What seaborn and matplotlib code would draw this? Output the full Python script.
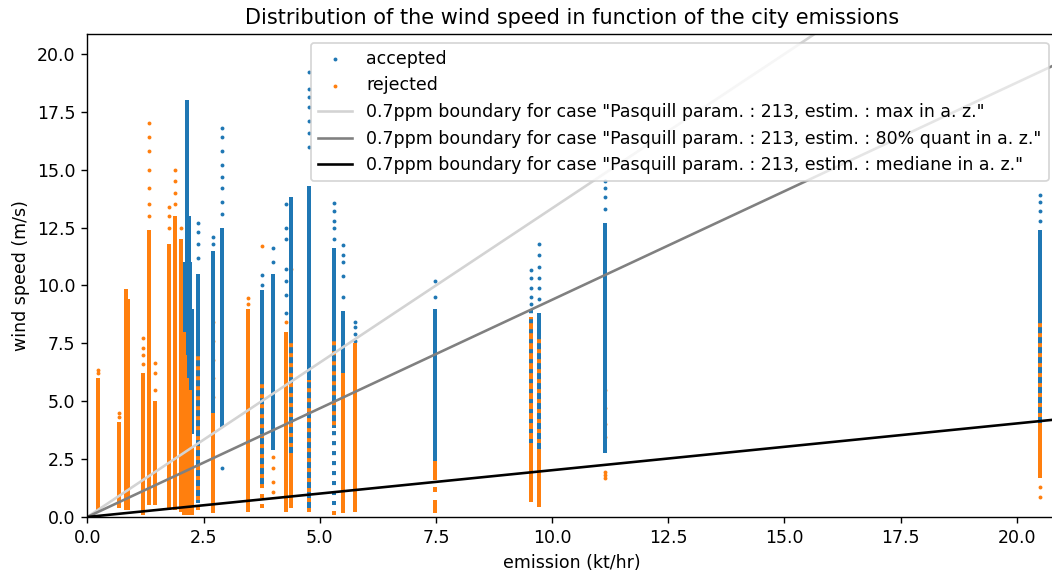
import pandas as pd
import matplotlib
matplotlib.use("Agg")
import matplotlib.pyplot as plt
import seaborn as sns

# dense parts of each city column: (emission, lowest wind, highest wind)
accepted_dense = [
    (2.08, 4.0, 10.5), (2.11, 3.8, 11.0), (2.14, 3.5, 18.0), (2.18, 3.6, 13.0),
    (2.22, 4.0, 11.0), (2.25, 3.6, 9.0), (2.39, 0.6, 10.5),
    (2.71, 4.5, 11.5), (2.90, 3.9, 12.5), (3.76, 1.3, 9.8), (4.00, 2.9, 10.5),
    (4.38, 2.6, 13.8), (4.76, 0.2, 14.3), (5.31, 3.85, 11.6), (5.50, 6.2, 8.9),
    (7.48, 2.3, 9.0), (9.72, 2.75, 8.8), (11.14, 2.75, 12.7), (20.50, 2.0, 12.4),
]
# parts where accepted points are scattered among rejected ones
accepted_mixed = [(9.55, 3.2, 9.2), (5.31, 0.5, 3.85)]
# isolated accepted points
accepted_dots = {
    2.39: [12.7, 12.3, 11.8, 11.2],
    2.71: [12.1, 11.8],
    2.90: [16.8, 16.4, 15.8, 15.2, 14.7, 14.2, 13.6, 13.1, 2.1],
    3.76: [10.0, 10.45],
    4.00: [11.0, 11.6],
    4.27: [13.5, 12.5, 12.0, 10.7, 10.2, 9.6, 8.8],
    4.76: [19.2, 18.5, 18.15, 17.7, 17.1, 16.6, 16.0],
    5.31: [13.55, 13.2, 12.8, 12.5, 12.0],
    5.50: [11.75, 11.3, 11.0, 10.4, 9.5],
    5.76: [8.44, 8.2, 7.9, 7.6],
    7.48: [10.2, 9.5],
    9.55: [10.67, 10.3, 9.9, 9.5, 9.2],
    9.72: [11.8, 11.3, 10.8, 10.3, 9.9, 9.4],
    11.14: [14.5, 14.2, 13.8, 13.3],
    20.50: [13.9, 13.6, 13.2, 12.8],
}

rejected_dense = [
    (0.22, 0.2, 6.0), (0.69, 0.4, 4.1), (0.83, 0.3, 9.85), (0.88, 0.3, 9.4),
    (1.19, 0.1, 6.2), (1.33, 0.5, 12.4), (1.46, 0.5, 5.0), (1.76, 0.3, 11.8),
    (1.89, 0.3, 13.0), (2.01, 0.2, 12.0), (2.07, 0.1, 8.0), (2.10, 0.1, 7.0),
    (2.12, 0.1, 4.0), (2.15, 0.1, 6.0), (2.17, 0.1, 4.5), (2.20, 0.1, 5.5),
    (2.22, 0.1, 3.5), (2.25, 0.1, 3.0), (2.71, 0.17, 4.5), (3.45, 0.23, 9.0),
    (4.27, 0.2, 8.0), (4.38, 0.4, 2.6), (5.50, 0.17, 6.2), (5.76, 0.2, 7.5),
    (7.48, 1.6, 2.4), (7.48, 1.1, 1.3), (7.48, 0.17, 0.75), (9.55, 0.66, 8.65),
    (9.72, 0.43, 2.75), (20.50, 1.7, 3.9),
]
rejected_mixed = [
    (2.39, 0.3, 7.1), (3.76, 0.4, 5.9), (4.38, 2.6, 7.5), (4.76, 0.2, 5.9),
    (5.31, 0.1, 7.6), (9.72, 2.75, 7.9), (20.50, 3.9, 8.4),
]
rejected_dots = {
    0.22: [6.35, 6.2],
    0.69: [4.5, 4.3],
    1.19: [6.6, 7.0, 7.3, 7.73],
    1.33: [13.0, 13.5, 14.2, 15.0, 15.8, 16.4, 17.0],
    1.46: [6.65, 6.2, 5.5],
    1.76: [12.5, 13.0, 13.4],
    1.89: [13.5, 14.0, 14.5, 15.0],
    2.01: [12.5],
    2.71: [8.4, 7.6, 6.8, 6.0, 5.2],
    3.45: [9.45, 9.2],
    3.76: [11.7],
    4.00: [2.6, 2.1, 1.5, 1.1],
    4.27: [8.4],
    4.38: [10.7],
    11.14: [5.5, 4.7, 4.0, 3.45, 1.95, 1.8, 1.7],
    20.50: [1.3, 0.88],
}

# 0.7ppm boundaries (wind speed per kt/hr)
boundary_names = ["max in a. z.", "80% quant in a. z.", "mediane in a. z."]
boundary_slopes = [1.333, 0.938, 0.202]
boundary_colors = ["lightgray", "gray", "black"]

BLUE = "#1f77b4"
ORANGE = "#ff7f0e"


def to_segments(rows):
    return pd.DataFrame(rows, columns=["emission", "low", "high"])


def to_points(dots):
    rows = [(e, w) for e, winds in dots.items() for w in winds]
    return pd.DataFrame(rows, columns=["emission", "wind"])


fig, ax = plt.subplots(figsize=(8.416, 4.576), dpi=125)
fig.subplots_adjust(left=0.083, right=1.005, bottom=0.0962, top=0.9406)

acc = to_segments(accepted_dense)
ax.vlines(acc["emission"], acc["low"], acc["high"], colors=BLUE, lw=2.3)
acc_pts = to_points(accepted_dots)
sns.scatterplot(data=acc_pts, x="emission", y="wind", color=BLUE, s=5,
                linewidth=0, label="accepted", ax=ax)

rej = to_segments(rejected_dense)
ax.vlines(rej["emission"], rej["low"], rej["high"], colors=ORANGE, lw=2.3)
rej_pts = to_points(rejected_dots)
sns.scatterplot(data=rej_pts, x="emission", y="wind", color=ORANGE, s=5,
                linewidth=0, label="rejected", ax=ax)

rej_mix = to_segments(rejected_mixed)
ax.vlines(rej_mix["emission"], rej_mix["low"], rej_mix["high"], colors=ORANGE,
          lw=2.3, linestyles=(0, (1, 1.5)))
acc_mix = to_segments(accepted_mixed)
ax.vlines(acc_mix["emission"], acc_mix["low"], acc_mix["high"], colors=BLUE,
          lw=2.3, linestyles=(0, (1, 1.5)))

for name, slope, col in zip(boundary_names, boundary_slopes, boundary_colors):
    ax.axline((0, 0), slope=slope, color=col, lw=1.5,
              label=f'0.7ppm boundary for case "Pasquill param. : 213, estim. : {name}"')

ax.set_xlim(0, 20.87)
ax.set_ylim(0, 20.86)
ax.set_title("Distribution of the wind speed in function of the city emissions")
ax.set_xlabel("emission (kt/hr)")
ax.set_ylabel("wind speed (m/s)")
ax.legend(loc="upper right")

fig.savefig("out.png", dpi=125)
